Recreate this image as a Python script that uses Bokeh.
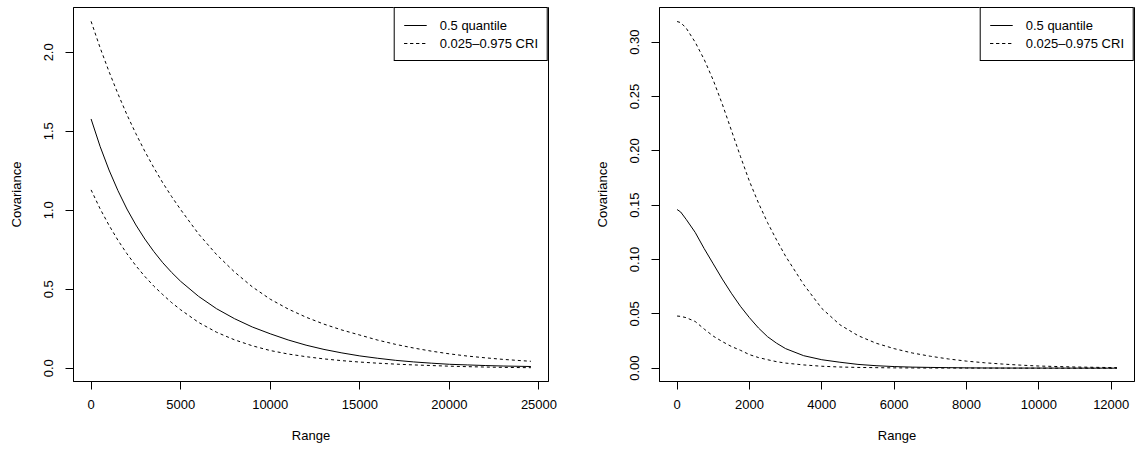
from bokeh.plotting import figure
from bokeh.layouts import row
from bokeh.models import (FixedTicker, PrintfTickFormatter, Range1d, Legend,
                          LegendItem)
from bokeh.embed import file_html
from bokeh.resources import INLINE

# ---------------- data ----------------
# Left panel
left_range = [0, 500, 1000, 1500, 2000, 2500, 3000, 3500, 4000, 4500, 5000,
              6000, 7000, 8000, 9000, 10000, 11000, 12000, 13000, 14000, 15000,
              16000, 17000, 18000, 19000, 20000, 21000, 22000, 23000, 24000,
              24550]
left_median = [1.578, 1.405, 1.255, 1.124, 1.008, 0.907, 0.818, 0.739, 0.668,
               0.606, 0.55, 0.455, 0.377, 0.314, 0.261, 0.218, 0.179, 0.146,
               0.119, 0.097, 0.078, 0.063, 0.050, 0.040, 0.032, 0.025, 0.021,
               0.017, 0.014, 0.012, 0.011]
left_lower = [1.129, 1.01, 0.905, 0.81, 0.725, 0.649, 0.581, 0.52, 0.466,
              0.415, 0.37, 0.29, 0.228, 0.18, 0.142, 0.112, 0.09, 0.073, 0.059,
              0.048, 0.039, 0.032, 0.026, 0.021, 0.017, 0.013, 0.010, 0.0075,
              0.0055, 0.004, 0.0035]
left_upper = [2.196, 2.03, 1.878, 1.737, 1.605, 1.485, 1.373, 1.27, 1.174,
              1.086, 1.004, 0.85, 0.72, 0.61, 0.515, 0.437, 0.375, 0.323, 0.279,
              0.242, 0.21, 0.178, 0.151, 0.128, 0.108, 0.091, 0.077, 0.066,
              0.056, 0.048, 0.044]

# Right panel
right_range = [0, 100, 250, 500, 750, 1000, 1250, 1500, 1750, 2000, 2250, 2500,
               2750, 3000, 3500, 4000, 4500, 5000, 5500, 6000, 6500, 7000, 7500,
               8000, 8500, 9000, 9500, 10000, 11000, 12158]
right_median = [0.146, 0.1437, 0.137, 0.125, 0.110, 0.096, 0.082, 0.069, 0.057,
                0.0465, 0.037, 0.029, 0.023, 0.018, 0.0115, 0.0078, 0.0055,
                0.0035, 0.0023, 0.0015, 0.0010, 0.0007, 0.0005, 0.0003, 0.0002,
                0.00015, 0.00012, 0.0001, 0.00005, 0.00003]
right_lower = [0.048, 0.0477, 0.0465, 0.043, 0.036, 0.0295, 0.0245, 0.020,
               0.0165, 0.0125, 0.0098, 0.0078, 0.006, 0.0047, 0.003, 0.0018,
               0.0011, 0.0007, 0.0005, 0.0003, 0.0002, 0.00015, 0.00012, 0.0001,
               0.00008, 0.00006, 0.00005, 0.00003, 0.00002, 0.00001]
right_upper = [0.319, 0.318, 0.313, 0.300, 0.284, 0.265, 0.243, 0.219, 0.195,
               0.172, 0.152, 0.134, 0.118, 0.103, 0.077, 0.055, 0.040, 0.030,
               0.023, 0.018, 0.014, 0.011, 0.0085, 0.0065, 0.005, 0.0038,
               0.0028, 0.002, 0.0011, 0.0005]

left_xticks = [0, 5000, 10000, 15000, 20000, 25000]
left_yticks = [0.0, 0.5, 1.0, 1.5, 2.0]
right_xticks = [0, 2000, 4000, 6000, 8000, 10000, 12000]
right_yticks = [0.00, 0.05, 0.10, 0.15, 0.20, 0.25, 0.30]

x_title = "Range"
y_title = "Covariance"
legend_labels = ["0.5 quantile", "0.025\u20130.975 CRI"]

FONT = "Liberation Sans"
FS = "13px"


def style_axis(ax, ticks, fmt, title, standoff, title_standoff, vertical=False):
    ax.ticker = FixedTicker(ticks=ticks, minor_ticks=[])
    ax.formatter = PrintfTickFormatter(format=fmt)
    ax.axis_label = title
    ax.axis_label_text_font = FONT
    ax.axis_label_text_font_size = FS
    ax.axis_label_text_font_style = "normal"
    ax.axis_label_text_color = "black"
    ax.axis_label_standoff = title_standoff
    ax.major_label_text_font = FONT
    ax.major_label_text_font_size = FS
    ax.major_label_text_color = "black"
    ax.major_label_standoff = standoff
    ax.major_tick_out = 8
    ax.major_tick_in = 0
    ax.minor_tick_out = 0
    ax.minor_tick_in = 0
    ax.major_tick_line_color = "black"
    ax.axis_line_color = "black"
    if vertical:
        ax.major_label_orientation = "vertical"


def make_panel(x, med, lo, hi, xr, yr, xticks, yticks, yfmt, bl, br, w):
    p = figure(width=w, height=450, x_range=Range1d(*xr), y_range=Range1d(*yr),
               output_backend="svg", toolbar_location=None,
               min_border_left=bl, min_border_right=br,
               min_border_top=7, min_border_bottom=69)
    p.grid.visible = False
    p.background_fill_color = "white"
    p.border_fill_color = "white"
    p.outline_line_color = "black"
    p.outline_line_alpha = 1.0
    p.outline_line_width = 1

    r_med = p.line(x, med, line_color="black", line_width=1)
    r_lo = p.line(x, lo, line_color="black", line_width=1, line_dash="3 3")
    r_hi = p.line(x, hi, line_color="black", line_width=1, line_dash="3 3")

    style_axis(p.xaxis[0], xticks, "%d", x_title, 10, 16)
    style_axis(p.yaxis[0], yticks, yfmt, y_title, 12, 18, vertical=True)

    legend = Legend(items=[LegendItem(label=legend_labels[0], renderers=[r_med]),
                           LegendItem(label=legend_labels[1], renderers=[r_lo, r_hi])],
                    location="top_right")
    legend.margin = 0
    legend.padding = 9
    legend.spacing = 2
    legend.glyph_width = 23
    legend.glyph_height = 16
    legend.label_height = 16
    legend.label_standoff = 13
    legend.label_text_font = FONT
    legend.label_text_font_size = FS
    legend.label_text_color = "black"
    legend.border_line_color = "black"
    legend.border_line_width = 1
    legend.border_line_alpha = 1.0
    legend.background_fill_color = "white"
    legend.background_fill_alpha = 1.0
    p.add_layout(legend)
    return p


p1 = make_panel(left_range, left_median, left_lower, left_upper,
                (-982, 25532), (-0.084, 2.2837), left_xticks, left_yticks,
                "%.1f", 73, 20, 568)
p2 = make_panel(right_range, right_median, right_lower, right_upper,
                (-486, 12644), (-0.01224, 0.3319), right_xticks, right_yticks,
                "%.2f", 91, 2, 568)

layout = row(p1, p2)
open("out.html", "w").write(file_html(layout, INLINE))
